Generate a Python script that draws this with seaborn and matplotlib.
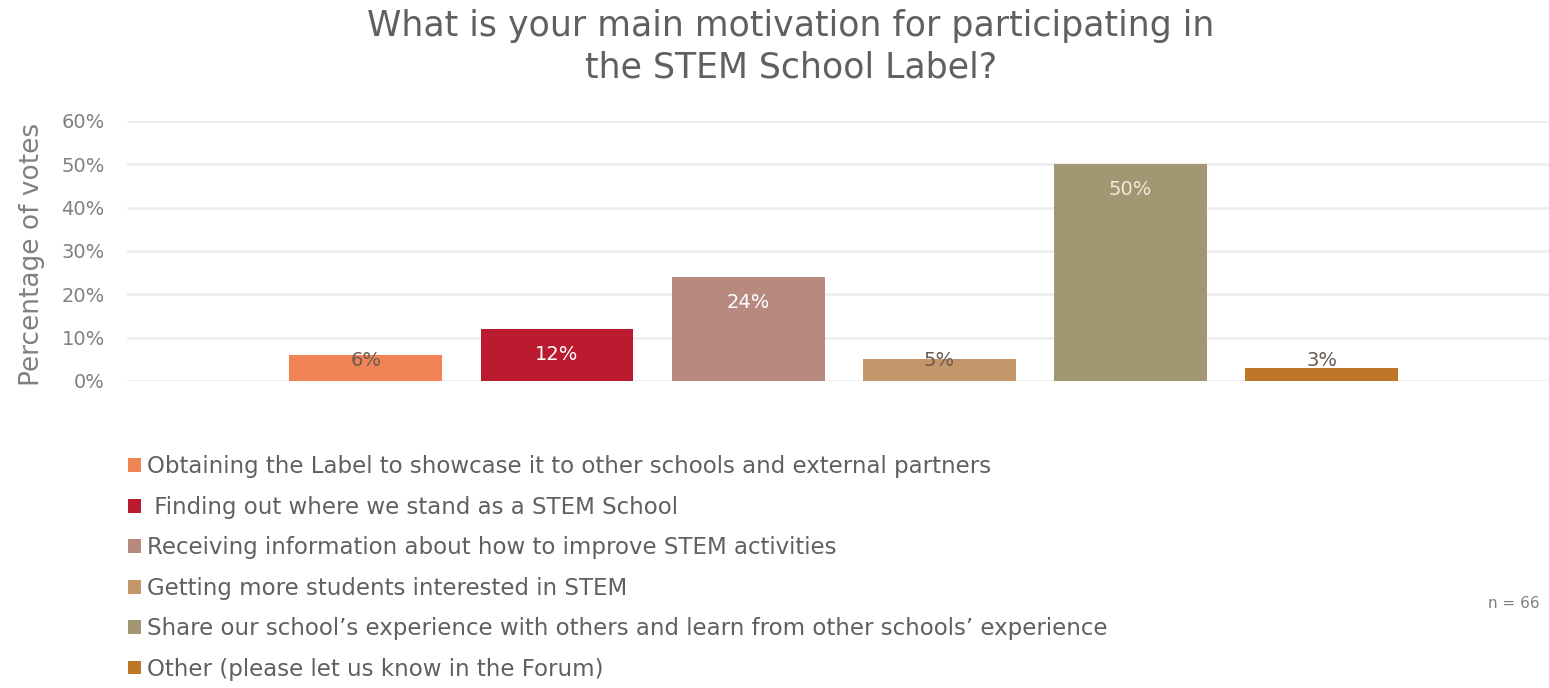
import matplotlib
matplotlib.use("Agg")
import matplotlib.pyplot as plt
from matplotlib.patches import Patch
import seaborn as sns
import pandas as pd

categories = [
    "Obtaining the Label to showcase it to other schools and external partners",
    " Finding out where we stand as a STEM School",
    "Receiving information about how to improve STEM activities",
    "Getting more students interested in STEM",
    "Share our school\u2019s experience with others and learn from other schools\u2019 experience",
    "Other (please let us know in the Forum)",
]
values = [0.06, 0.12, 0.24, 0.05, 0.50, 0.03]
value_labels = ["6%", "12%", "24%", "5%", "50%", "3%"]
colors = ["#F08456", "#BA1B2E", "#B88A7F", "#C4966A", "#A39673", "#C07628"]
label_colors = ["#6b5a50", "#ffffff", "#ffffff", "#6b5a50", "#F0EAD8", "#6b5a50"]
yticks = [0, 0.1, 0.2, 0.3, 0.4, 0.5, 0.6]
ytick_labels = ["0%", "10%", "20%", "30%", "40%", "50%", "60%"]
title = "What is your main motivation for participating in\nthe STEM School Label?"
ylabel = "Percentage of votes"
note = "n = 66"

sns.set_theme(style="white")
plt.rcParams["font.family"] = ["DejaVu Sans"]

df = pd.DataFrame({"cat": categories, "val": values})

fig = plt.figure(figsize=(15.49, 6.88), dpi=100)
ax = fig.add_axes([127 / 1549, 1 - 381 / 688, 1 - 127 / 1549, (381 - 121) / 688])

sns.barplot(data=df, x="cat", y="val", hue="cat", order=categories,
            hue_order=categories, palette=colors, width=0.8, dodge=False,
            legend=False, ax=ax, saturation=1, edgecolor="none")

ax.set_ylim(0, 0.6)
ax.set_xlim(-1.25, 6.19)
ax.set_yticks(yticks)
ax.set_yticklabels(ytick_labels, color="#808080", fontsize=14)
ax.tick_params(axis="y", length=0, pad=16)
ax.set_xticks([])
ax.set_xlabel("")
ax.set_ylabel(ylabel, color="#808080", fontsize=19)
ax.yaxis.set_label_coords(-0.058, 0.485)
ax.grid(axis="y", color="#EEEEEE", linewidth=2)
ax.set_axisbelow(True)
for s in ax.spines.values():
    s.set_visible(False)

for i, (v, lab, c) in enumerate(zip(values, value_labels, label_colors)):
    y = max(v - 0.058, 0.048)
    ax.text(i, y, lab, ha="center", va="center", color=c, fontsize=14)

fig.text(791 / 1549, 1 - 47 / 688, title, ha="center", va="center",
         fontsize=25, color="#606060", linespacing=1.28)

handles = [Patch(facecolor=c, edgecolor="none") for c in colors]
fig.legend(handles, categories, loc="center left",
           bbox_to_anchor=(128 / 1549, 1 - 568 / 688), frameon=False,
           fontsize=16.5, labelcolor="#606060", handlelength=0.55,
           handleheight=0.55, handletextpad=0.3, labelspacing=0.76,
           borderpad=0, borderaxespad=0)

fig.text(1488 / 1549, 1 - 603 / 688, note, ha="left", va="center",
         fontsize=11, color="#808080")

fig.savefig("out.png", dpi=100)
